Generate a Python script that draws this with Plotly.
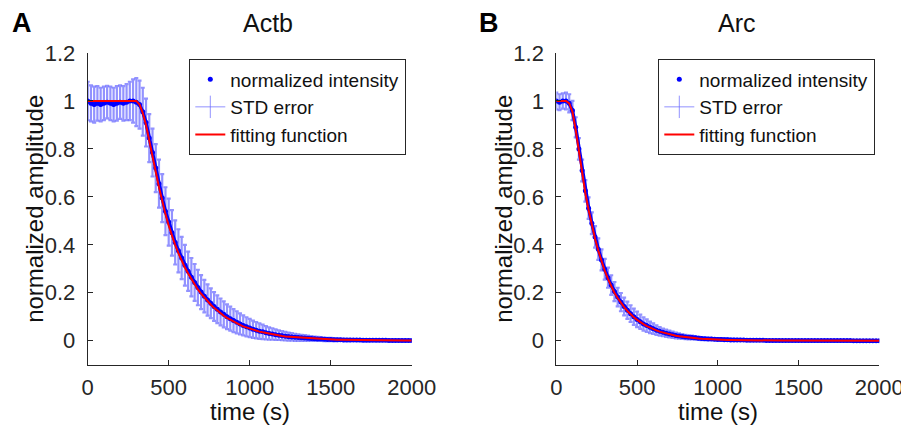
import plotly.graph_objects as go

# ---------------- data ----------------
time_s = [
    0, 20, 40, 60, 80, 100, 120, 140, 160, 180,
    200, 220, 240, 260, 280, 300, 320, 340, 360, 380,
    400, 420, 440, 460, 480, 500, 520, 540, 560, 580,
    600, 620, 640, 660, 680, 700, 720, 740, 760, 780,
    800, 820, 840, 860, 880, 900, 920, 940, 960, 980,
    1000, 1020, 1040, 1060, 1080, 1100, 1120, 1140, 1160, 1180,
    1200, 1220, 1240, 1260, 1280, 1300, 1320, 1340, 1360, 1380,
    1400, 1420, 1440, 1460, 1480, 1500, 1520, 1540, 1560, 1580,
    1600, 1620, 1640, 1660, 1680, 1700, 1720, 1740, 1760, 1780,
    1800, 1820, 1840, 1860, 1880, 1900, 1920, 1940, 1960, 1980,
    2000,
]

actb_mean = [
    1.00, 0.99, 0.985, 0.99, 0.985, 0.99, 0.995, 0.99, 0.985, 0.99,
    0.995, 0.99, 0.995, 1.0, 1.0, 0.995, 0.985, 0.955, 0.91, 0.845,
    0.785, 0.72, 0.655, 0.595, 0.54, 0.495, 0.45, 0.41, 0.375, 0.345,
    0.315, 0.29, 0.265, 0.243, 0.222, 0.203, 0.186, 0.17, 0.156, 0.143,
    0.131, 0.12, 0.11, 0.1, 0.092, 0.084, 0.077, 0.07, 0.064, 0.058,
    0.053, 0.048, 0.044, 0.04, 0.037, 0.033, 0.03, 0.028, 0.025, 0.023,
    0.021, 0.019, 0.017, 0.016, 0.014, 0.013, 0.012, 0.011, 0.01, 0.009,
    0.008, 0.0075, 0.007, 0.006, 0.0055, 0.005, 0.0045, 0.004, 0.004, 0.0035,
    0.003, 0.003, 0.003, 0.0025, 0.0025, 0.002, 0.002, 0.002, 0.002, 0.0015,
    0.0015, 0.0015, 0.0015, 0.001, 0.001, 0.001, 0.001, 0.001, 0.001, 0.001,
    0.001,
]
actb_std = [
    0.08, 0.075, 0.075, 0.072, 0.07, 0.07, 0.068, 0.07, 0.07, 0.072,
    0.07, 0.072, 0.075, 0.08, 0.09, 0.1, 0.1, 0.1, 0.1, 0.1,
    0.1, 0.1, 0.1, 0.1, 0.1, 0.098, 0.095, 0.092, 0.09, 0.088,
    0.085, 0.082, 0.08, 0.077, 0.074, 0.071, 0.068, 0.065, 0.062, 0.06,
    0.058, 0.056, 0.054, 0.052, 0.05, 0.048, 0.046, 0.044, 0.042, 0.04,
    0.038, 0.036, 0.034, 0.032, 0.03, 0.028, 0.026, 0.024, 0.022, 0.02,
    0.019, 0.018, 0.017, 0.016, 0.015, 0.014, 0.013, 0.012, 0.011, 0.01,
    0.009, 0.0085, 0.008, 0.0075, 0.007, 0.0065, 0.006, 0.0055, 0.005, 0.005,
    0.0045, 0.0045, 0.004, 0.004, 0.004, 0.0035, 0.0035, 0.0035, 0.003, 0.003,
    0.003, 0.003, 0.003, 0.003, 0.003, 0.003, 0.003, 0.003, 0.003, 0.003,
    0.003,
]
actb_fit = [
    1.0, 1.0, 1.0, 1.0, 1.0, 1.0, 1.0, 1.0, 1.0, 1.0,
    1.0, 1.0, 1.0, 1.0, 1.0, 1.0, 0.985, 0.95, 0.9, 0.83,
    0.77, 0.705, 0.64, 0.58, 0.528, 0.48, 0.438, 0.4, 0.365, 0.334,
    0.305, 0.28, 0.256, 0.235, 0.214, 0.196, 0.179, 0.164, 0.15, 0.137,
    0.125, 0.114, 0.104, 0.095, 0.087, 0.079, 0.072, 0.066, 0.06, 0.055,
    0.05, 0.046, 0.042, 0.038, 0.035, 0.032, 0.029, 0.027, 0.024, 0.022,
    0.02, 0.018, 0.017, 0.015, 0.014, 0.013, 0.012, 0.011, 0.01, 0.009,
    0.008, 0.0075, 0.007, 0.006, 0.0055, 0.005, 0.0045, 0.004, 0.0037, 0.0034,
    0.003, 0.0028, 0.0026, 0.0024, 0.0022, 0.002, 0.0018, 0.0017, 0.0016, 0.0015,
    0.0014, 0.0013, 0.0012, 0.0011, 0.001, 0.001, 0.0009, 0.0009, 0.0008, 0.0008,
    0.0007,
]

arc_mean = [
    1.0, 0.995, 1.0, 1.0, 0.99, 0.96, 0.89, 0.8, 0.71, 0.625,
    0.553, 0.49, 0.433, 0.382, 0.337, 0.298, 0.263, 0.232, 0.205, 0.182,
    0.161, 0.143, 0.127, 0.113, 0.1, 0.089, 0.079, 0.07, 0.063, 0.056,
    0.05, 0.044, 0.039, 0.035, 0.031, 0.028, 0.025, 0.022, 0.02, 0.018,
    0.016, 0.014, 0.013, 0.012, 0.01, 0.009, 0.008, 0.0075, 0.007, 0.006,
    0.0055, 0.005, 0.0045, 0.004, 0.0035, 0.003, 0.003, 0.0025, 0.0025, 0.002,
    0.002, 0.002, 0.0015, 0.0015, 0.0015, 0.001, 0.001, 0.001, 0.001, 0.001,
    0.001, 0.001, 0.001, 0.0008, 0.0008, 0.0008, 0.0008, 0.0007, 0.0007, 0.0007,
    0.0007, 0.0006, 0.0006, 0.0006, 0.0006, 0.0005, 0.0005, 0.0005, 0.0005, 0.0005,
    0.0005, 0.0005, 0.0004, 0.0004, 0.0004, 0.0004, 0.0004, 0.0004, 0.0004, 0.0004,
    0.0004,
]
arc_std = [
    0.035, 0.033, 0.032, 0.035, 0.038, 0.04, 0.042, 0.045, 0.045, 0.045,
    0.045, 0.045, 0.045, 0.045, 0.044, 0.043, 0.042, 0.041, 0.04, 0.039,
    0.038, 0.037, 0.036, 0.035, 0.034, 0.032, 0.03, 0.028, 0.026, 0.024,
    0.022, 0.02, 0.018, 0.016, 0.015, 0.014, 0.013, 0.012, 0.011, 0.01,
    0.009, 0.0085, 0.008, 0.0075, 0.007, 0.0065, 0.006, 0.0055, 0.005, 0.005,
    0.0045, 0.004, 0.004, 0.0035, 0.0035, 0.003, 0.003, 0.003, 0.0025, 0.0025,
    0.0025, 0.0025, 0.0025, 0.0025, 0.0025, 0.0022, 0.0022, 0.0022, 0.0022, 0.0022,
    0.002, 0.002, 0.002, 0.002, 0.002, 0.002, 0.002, 0.002, 0.002, 0.002,
    0.002, 0.002, 0.002, 0.002, 0.002, 0.002, 0.002, 0.002, 0.002, 0.002,
    0.002, 0.002, 0.002, 0.002, 0.002, 0.002, 0.002, 0.002, 0.002, 0.002,
    0.002,
]
arc_fit = [
    1.0, 1.0, 1.0, 1.0, 0.99, 0.955, 0.88, 0.79, 0.7, 0.615,
    0.545, 0.48, 0.425, 0.375, 0.33, 0.292, 0.258, 0.228, 0.2, 0.178,
    0.158, 0.14, 0.124, 0.11, 0.098, 0.087, 0.077, 0.069, 0.061, 0.054,
    0.048, 0.043, 0.038, 0.034, 0.03, 0.027, 0.024, 0.021, 0.019, 0.017,
    0.015, 0.013, 0.012, 0.011, 0.0095, 0.0085, 0.0075, 0.0067, 0.006, 0.0053,
    0.0047, 0.0042, 0.0037, 0.0033, 0.003, 0.0027, 0.0024, 0.0021, 0.0019, 0.0017,
    0.0015, 0.0013, 0.0012, 0.0011, 0.001, 0.0009, 0.0008, 0.0007, 0.0006, 0.0006,
    0.0005, 0.0005, 0.0004, 0.0004, 0.0004, 0.0003, 0.0003, 0.0003, 0.0003, 0.0002,
    0.0002, 0.0002, 0.0002, 0.0002, 0.0002, 0.0002, 0.0002, 0.0002, 0.0002, 0.0002,
    0.0002, 0.0002, 0.0001, 0.0001, 0.0001, 0.0001, 0.0001, 0.0001, 0.0001, 0.0001,
    0.0001,
]

panel_titles = ["Actb", "Arc"]
panel_letters = ["A", "B"]
x_ticks = [0, 500, 1000, 1500, 2000]
y_ticks = [0, 0.2, 0.4, 0.6, 0.8, 1.0, 1.2]
y_ticktext = ["0", "0.2", "0.4", "0.6", "0.8", "1", "1.2"]
legend_names = ["normalized intensity", "STD error", "fitting function"]

# ---------------- styling ----------------
# The page body has an 8px margin, so the figure is 8px smaller than the
# window and every target pixel position is shifted by -8.
OFF = 8
W, H = 909 - OFF, 434 - OFF


def px(x):
    return (x - OFF) / W


def py(y):
    return 1 - (y - OFF) / H


FONT = "Liberation Sans, Arial, sans-serif"
AX = "#262626"
ERR = "rgba(100,100,255,0.7)"
DOT = "#0000FF"
FIT = "#FF0000"

fig = go.Figure()

panels = [
    (actb_mean, actb_std, actb_fit, "x", "y", "legend"),
    (arc_mean, arc_std, arc_fit, "x2", "y2", "legend2"),
]
for mean, std, fit, xa, ya, lg in panels:
    # error bars (STD)
    fig.add_trace(go.Scatter(
        x=time_s, y=mean, mode="markers", xaxis=xa, yaxis=ya,
        marker=dict(size=1, color="rgba(0,0,0,0)"),
        error_y=dict(type="data", array=std, visible=True, color=ERR, thickness=2.2, width=2),
        showlegend=False, hoverinfo="skip"))
    # dense measured points (joined so the dense dots read as a continuous trace)
    fig.add_trace(go.Scatter(
        x=time_s, y=mean, mode="lines", xaxis=xa, yaxis=ya,
        line=dict(color=DOT, width=3.5), showlegend=False, hoverinfo="skip"))
    fig.add_trace(go.Scatter(
        x=time_s, y=mean, mode="markers", xaxis=xa, yaxis=ya,
        marker=dict(size=5, color=DOT), name=legend_names[0],
        legend=lg, legendrank=1))
    fig.add_trace(go.Scatter(
        x=[None], y=[None], mode="lines+markers", xaxis=xa, yaxis=ya,
        line=dict(color=ERR, width=1),
        marker=dict(symbol="line-ns-open", size=18, color=ERR, line=dict(color=ERR, width=1)),
        name=legend_names[1], legend=lg, legendrank=2))
    fig.add_trace(go.Scatter(
        x=time_s, y=fit, mode="lines", xaxis=xa, yaxis=ya,
        line=dict(color=FIT, width=2), name=legend_names[2],
        legend=lg, legendrank=3))

ax_top, ax_bot = 53, 364.7
ydom = [py(ax_bot), py(ax_top)]
xdoms = [[px(87.7), px(411.7)], [px(556.3), px(879.3)]]

common_x = dict(range=[0, 2000], tickvals=x_ticks, ticks="inside", ticklen=5,
                tickcolor=AX, tickwidth=1, showline=True, linecolor=AX, linewidth=1,
                showgrid=False, zeroline=False, mirror=False, automargin=False,
                tickfont=dict(family=FONT, size=22, color=AX), ticklabelstandoff=3)
common_y = dict(range=[-0.1, 1.2], tickvals=y_ticks, ticktext=y_ticktext, ticks="inside",
                ticklen=5, tickcolor=AX, tickwidth=1, showline=True, linecolor=AX,
                linewidth=1, showgrid=False, zeroline=False, mirror=False, automargin=False,
                tickfont=dict(family=FONT, size=22, color=AX), ticklabelstandoff=7)

legend_common = dict(xanchor="right", yanchor="top", y=py(59),
                     bgcolor="white", bordercolor=AX, borderwidth=1.3,
                     font=dict(family=FONT, size=19, color="#111111"),
                     tracegroupgap=0, itemwidth=30)

fig.update_layout(
    width=W, height=H, margin=dict(l=0, r=0, t=0, b=0, autoexpand=False),
    paper_bgcolor="white", plot_bgcolor="white",
    font=dict(family=FONT, color="#111111"),
    xaxis=dict(domain=xdoms[0], anchor="y", **common_x),
    yaxis=dict(domain=ydom, anchor="x", **common_y),
    xaxis2=dict(domain=xdoms[1], anchor="y2", **common_x),
    yaxis2=dict(domain=ydom, anchor="x2", **common_y),
    legend=dict(x=px(406), **legend_common),
    legend2=dict(x=px(875), **legend_common),
)

annotations = []
title_x = [268, 737]
letter_x = [22, 489]
ylabel_x = [35, 504]
xlabel_x = [(87.7 + 411.7) / 2, (556.3 + 879.3) / 2]
for i in range(2):
    annotations.append(dict(text=panel_titles[i], x=px(title_x[i]), y=py(23),
                            xref="paper", yref="paper", showarrow=False,
                            xanchor="center", yanchor="middle",
                            font=dict(family=FONT, size=25, color="#111111")))
    annotations.append(dict(text="<b>" + panel_letters[i] + "</b>", x=px(letter_x[i]),
                            y=py(23), xref="paper", yref="paper", showarrow=False,
                            xanchor="center", yanchor="middle",
                            font=dict(family=FONT, size=27, color="#000000")))
    annotations.append(dict(text="normalized amplitude", x=px(ylabel_x[i]),
                            y=(ydom[0] + ydom[1]) / 2, xref="paper", yref="paper",
                            showarrow=False, textangle=-90, xanchor="center",
                            yanchor="middle",
                            font=dict(family=FONT, size=24, color="#111111")))
    annotations.append(dict(text="time (s)", x=px(xlabel_x[i]), y=py(411),
                            xref="paper", yref="paper", showarrow=False,
                            xanchor="center", yanchor="middle",
                            font=dict(family=FONT, size=24, color="#111111")))
fig.update_layout(annotations=annotations)

fig.write_html("out.html")
